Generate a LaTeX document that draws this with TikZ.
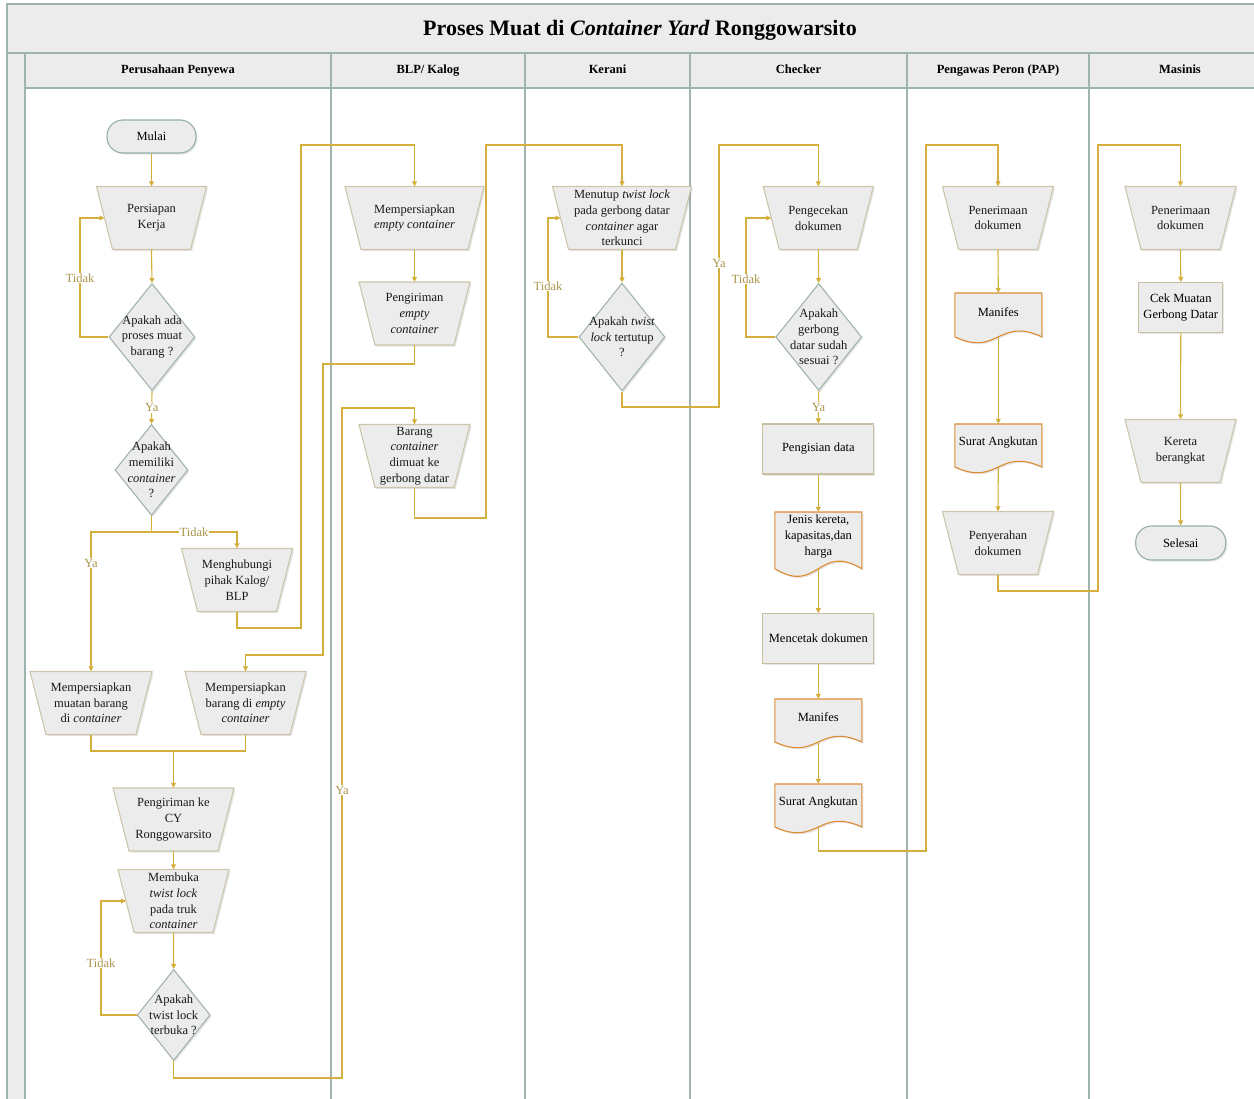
\documentclass[tikz,border=0pt]{standalone}
\usepackage{fontspec}
\setmainfont{Liberation Serif}
\usetikzlibrary{shapes.geometric,arrows.meta,shadows}
\definecolor{lanecol}{RGB}{160,180,175}
\definecolor{bandfill}{RGB}{236,236,236}
\definecolor{conncol}{RGB}{212,175,60}
\definecolor{lblcol}{RGB}{170,148,75}
\definecolor{trapcol}{RGB}{205,198,170}
\definecolor{diacol}{RGB}{160,180,172}
\definecolor{termcol}{RGB}{150,175,168}
\definecolor{doccol}{RGB}{222,140,50}
\definecolor{rectcol}{RGB}{200,192,160}
\definecolor{shapefill}{RGB}{236,236,236}
\newcommand{\trapnode}[5]{%
  \path[trapsty] ({#2-#4/2},{#3-31.5}) -- ({#2+#4/2},{#3-31.5}) -- ({#2+#4/2-16},{#3+31.5}) -- ({#2-#4/2+16},{#3+31.5}) -- cycle;
  \node[txt, minimum width=#4pt, minimum height=63pt] (#1) at (#2,#3) {#5};
  \coordinate (#1-l) at ({#2-#4/2+8},#3);}
\newcommand{\dianode}[6]{%
  \node[dia, minimum width=#4pt, minimum height=#5pt] (#1) at (#2,#3) {};
  \node[txt] at (#1) {#6};}
\newcommand{\docnode}[5]{%
  \path[docsty] ({#2-43.5},#3) -- ({#2+43.5},#3) -- ({#2+43.5},{#3+0.86*#4})
    .. controls (#2,{#3+0.46*#4}) and (#2,{#3+1.26*#4}) .. ({#2-43.5},{#3+0.86*#4}) -- cycle;
  \node[docbox, minimum height={0.74*#4}] (#1) at (#2,{#3+0.37*#4}) {#5};
  \coordinate (#1-b) at (#2,{#3+0.86*#4});}
\begin{document}
\begin{tikzpicture}[x=1pt,y=-1pt,
  font=\fontsize{12.5}{15.7}\selectfont,
  lane/.style={draw=lanecol,line width=1.3pt},
  band/.style={fill=bandfill,draw=lanecol,line width=1.3pt},
  shad/.style={drop shadow={shadow xshift=1.6pt,shadow yshift=-1.6pt,opacity=0.2}},
  txt/.style={align=center,inner sep=0pt,text=black!90},
  trapsty/.style={fill=shapefill, draw=trapcol, line width=1.1pt, shad},
  dia/.style={diamond, inner sep=0pt, fill=shapefill, draw=diacol, line width=1.1pt, shad},
  proc/.style={rectangle, inner sep=0pt, align=center, minimum width=111pt, minimum height=50pt,
    fill=shapefill, draw=rectcol, line width=1.1pt, shad},
  term/.style={rectangle, rounded corners=16pt, inner sep=0pt, minimum width=89pt, minimum height=33pt,
    fill=shapefill, draw=termcol, line width=1.1pt, shad},
  docsty/.style={fill=shapefill, draw=doccol, line width=1.1pt, shad},
  docbox/.style={rectangle, inner sep=0pt, minimum width=87pt, align=center},
  hdr/.style={anchor=base, font=\fontsize{12.5}{15}\selectfont\bfseries},
  connline/.style={draw=conncol, line width=1.1pt},
  conn/.style={connline, -{Triangle[length=5pt,width=5pt]}},
  lbl/.style={fill=white, inner sep=1pt, text=lblcol, font=\fontsize{12.5}{15}\selectfont}
]
\useasboundingbox (0,0) rectangle (1254,1099);
\clip (0,0) rectangle (1254,1099);
% frame
\path[band] (7,4) rectangle (1271,53);
\path[band] (7,53) rectangle (25,1110);
\path[band] (25,53) rectangle (1271,88);
\foreach \x in {331,525,690,907,1089} \draw[lane] (\x,53) -- (\x,1110);
\draw[lane] (25,53) -- (25,1110);
\draw[lane] (1271,4) -- (1271,1110);
\node[anchor=base, font=\fontsize{22}{26}\selectfont\bfseries] (title) at (640,36) {Proses Muat di \textit{Container Yard} Ronggowarsito};
\node[hdr] (h1) at (178,74) {Perusahaan Penyewa};
\node[hdr] (h2) at (428,74) {BLP/ Kalog};
\node[hdr] (h3) at (607.5,74) {Kerani};
\node[hdr] (h4) at (798.5,74) {Checker};
\node[hdr] (h5) at (998,74) {Pengawas Peron (PAP)};
\node[hdr] (h6) at (1180,74) {Masinis};

% lane 1
\node[term] (mulai) at (151.5,136.5) {Mulai};
\trapnode{t1}{151.5}{218}{110}{Persiapan\\Kerja}
\dianode{d1}{152}{337}{86}{107}{Apakah ada\\proses muat\\barang ?}
\dianode{d2}{151.5}{470}{73}{91}{Apakah\\memiliki\\\textit{container}\\?}
\trapnode{th}{237}{580}{111}{Menghubungi\\pihak Kalog/\\BLP}
\trapnode{tm}{91}{703}{122}{Mempersiapkan\\muatan barang\\di \textit{container}}
\trapnode{te}{245.5}{703}{121}{Mempersiapkan\\barang di \textit{empty}\\\textit{container}}
\trapnode{tcy}{173.5}{819.5}{121}{Pengiriman ke\\CY\\Ronggowarsito}
\trapnode{tmb}{173.5}{901}{111}{Membuka\\\textit{twist lock}\\pada truk\\\textit{container}}
\dianode{d3}{173.7}{1015}{73}{91}{Apakah\\twist lock\\terbuka ?}
% lane 2
\trapnode{tb1}{414.5}{218}{139}{Mempersiapkan\\\textit{empty container}}
\trapnode{tb2}{414.5}{313.5}{111}{Pengiriman\\\textit{empty}\\\textit{container}}
\trapnode{tbc}{414.5}{456}{111}{Barang\\\textit{container}\\dimuat ke\\gerbong datar}
% lane 3
\trapnode{tk1}{622}{218}{139}{Menutup \textit{twist lock}\\pada gerbong datar\\\textit{container} agar\\terkunci}
\dianode{dk}{622}{337}{86}{108}{Apakah \textit{twist}\\\textit{lock} tertutup\\?}
% lane 4
\trapnode{tc1}{818.3}{218}{110}{Pengecekan\\dokumen}
\dianode{dc}{818.7}{337}{86}{107}{Apakah\\gerbong\\datar sudah\\sesuai ?}
\node[proc] (rc1) at (818.3,449) {Pengisian data};
\docnode{doc1}{818.3}{512}{66}{Jenis kereta,\\kapasitas,dan\\harga}
\node[proc] (rc2) at (818.3,638.7) {Mencetak dokumen};
\docnode{doc2}{818.3}{699}{50}{Manifes}
\docnode{doc3}{818.3}{784}{50}{Surat Angkutan}
% lane 5
\trapnode{tp1}{998}{218}{111}{Penerimaan\\dokumen}
\docnode{docp1}{998.3}{293}{51}{Manifes}
\docnode{docp2}{998.3}{424}{50}{Surat Angkutan}
\trapnode{tp2}{998}{543}{111}{Penyerahan\\dokumen}
% lane 6
\trapnode{tm1}{1180.5}{218}{111}{Penerimaan\\dokumen}
\node[proc, minimum width=84pt] (rm) at (1180.8,307.5) {Cek Muatan\\Gerbong Datar};
\trapnode{tm2}{1180.5}{451}{111}{Kereta\\berangkat}
\node[term, minimum width=90pt, minimum height=34pt] (selesai) at (1180.7,543) {Selesai};

% connectors
\draw[conn] (mulai.south) -- (t1.north);
\draw[conn] (t1.south) -- (d1.north);
\draw[conn] (d1.west) -| (80,278) node[lbl]{Tidak} |- (t1-l);
\draw[conn] (d1.south) -- node[lbl]{Ya} (d2.north);
\draw[conn] (d2.south) |- (91,532) -- (91,563) node[lbl]{Ya} -- (tm.north);
\draw[conn] (d2.south) |- (194,532) node[lbl]{Tidak} -| (th.north);
\draw[conn] (th.south) |- (301,628) -- (301,145) -| (tb1.north);
\draw[conn] (tb1.south) -- (tb2.north);
\draw[conn] (tb2.south) |- (323,364) -- (323,655) -| (te.north);
\draw[connline] (tm.south) |- (173.5,751) -| (te.south);
\coordinate (j1) at (173.5,751);
\draw[conn] (j1) -- (tcy.north);
\draw[conn] (tcy.south) -- (tmb.north);
\draw[conn] (tmb.south) -- (d3.north);
\draw[conn] (d3.west) -| (101,963) node[lbl]{Tidak} |- (tmb-l);
\draw[conn] (d3.south) |- (342,1078) -- (342,790) node[lbl]{Ya} -- (342,408) -| (tbc.north);
\draw[conn] (tbc.south) |- (486,518) -- (486,145) -| (tk1.north);
\draw[conn] (tk1.south) -- (dk.north);
\draw[conn] (dk.west) -| (548,286) node[lbl]{Tidak} |- (tk1-l);
\draw[conn] (dk.south) |- (719,407) -- (719,263) node[lbl]{Ya} -- (719,145) -| (tc1.north);
\draw[conn] (tc1.south) -- (dc.north);
\draw[conn] (dc.west) -| (746,279) node[lbl]{Tidak} |- (tc1-l);
\draw[conn] (dc.south) -- node[lbl]{Ya} (rc1.north);
\draw[conn] (rc1.south) -- (doc1.north);
\draw[conn] (doc1-b) -- (rc2.north);
\draw[conn] (rc2.south) -- (doc2.north);
\draw[conn] (doc2-b) -- (doc3.north);
\draw[conn] (doc3-b) |- (926,851) -- (926,145) -| (tp1.north);
\draw[conn] (tp1.south) -- (docp1.north);
\draw[conn] (docp1-b) -- (docp2.north);
\draw[conn] (docp2-b) -- (tp2.north);
\draw[conn] (tp2.south) |- (1098,591) -- (1098,145) -| (tm1.north);
\draw[conn] (tm1.south) -- (rm.north);
\draw[conn] (rm.south) -- (tm2.north);
\draw[conn] (tm2.south) -- (selesai.north);
\end{tikzpicture}
\end{document}
